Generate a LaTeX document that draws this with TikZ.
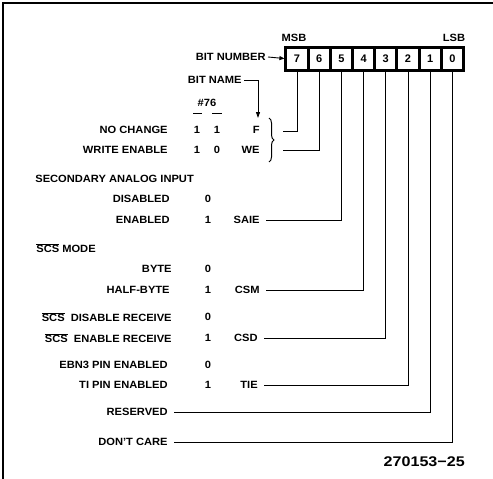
\documentclass[tikz,border=0pt]{standalone}
\usepackage{fontspec}
\setmainfont{Liberation Sans}
\usetikzlibrary{arrows.meta,decorations.pathreplacing}
\begin{document}
\begin{tikzpicture}[x=1pt,y=-1pt,
  txt/.style={font=\fontsize{10.5}{12}\selectfont\bfseries,inner sep=2pt,xscale=1.06},
  lbl/.style={txt,anchor=east},
  hdr/.style={txt,anchor=west},
  val/.style={txt,anchor=center},
  nm/.style={txt,anchor=east},
  cell/.style={draw,line width=3pt,minimum width=22.2pt,minimum height=23pt,inner sep=0pt,font=\fontsize{11}{12}\selectfont\bfseries},
  conn/.style={line width=0.9pt},
  frame/.style={line width=1.6pt}]
\useasboundingbox (0,0) rectangle (493,479);
% frame (top and left only)
\draw[frame] (3,479) -- (3,3) -- (493,3);
% bit cells
\foreach \i in {7,...,0}{
  \node[cell] (b\i) at ({297+22.2*(7-\i)},58.5) {\i};
}
\node[txt] (msb) at (294,38) {MSB};
\node[txt] (lsb) at (454,38) {LSB};
% bit number / bit name
\node[lbl] (bitnum) at (268,57) {BIT NUMBER};
\draw[conn,-{Triangle[length=5pt,width=4pt]}] (bitnum.east) -- (b7.west);
\node[lbl] (bitname) at (244,80) {BIT NAME};
\coordinate (namecorner) at (258,80);
\coordinate (namearrow) at (258,118);
\draw[conn,-{Triangle[length=6pt,width=4pt]}] (bitname.east) -- (namecorner) -- (namearrow);
% #76 header
\node[val] (h76) at (207,103) {\#76};
\draw[conn] (193,113) -- (202,113);
\draw[conn] (212,113) -- (222,113);
% rows
\node[lbl] (nochg) at (170,130) {NO CHANGE};
\node[val] (v1a) at (197,130) {1};
\node[val] (v1b) at (217,130) {1};
\node[nm] (f) at (262,130) {F};
\node[lbl] (wren) at (170,150) {WRITE ENABLE};
\node[val] (v2a) at (197,150) {1};
\node[val] (v2b) at (217,150) {0};
\node[nm] (we) at (262,150) {WE};
\draw[line width=1pt,decorate,decoration={brace,amplitude=5pt}] (269,118) -- (269,162);
\coordinate (fl) at (283,131);
\coordinate (wl) at (283,150);
\draw[conn] (fl) -| (b7.south);
\draw[conn] (wl) -| (b6.south);

\node[hdr] (sec) at (33,179) {SECONDARY ANALOG INPUT};
\node[lbl] (dis) at (172,199) {DISABLED};
\node[val] (vdis) at (208,199) {0};
\node[lbl] (ena) at (172,220) {ENABLED};
\node[val] (vena) at (208,220) {1};
\node[nm] (saie) at (262,220) {SAIE};
\draw[conn,shorten <=4pt] (saie.east) -| (b5.south);

\node[hdr] (scsm) at (34,248) {$\overline{\mbox{SCS}}$ MODE};
\node[lbl] (byte) at (174,269) {BYTE};
\node[val] (vbyte) at (208,269) {0};
\node[lbl] (hbyte) at (172,290) {HALF-BYTE};
\node[val] (vhb) at (208,290) {1};
\node[nm] (csm) at (262,290) {CSM};
\draw[conn,shorten <=4pt] (csm.east) -| (b4.south);

\node[lbl] (sdr) at (174,317) {$\overline{\mbox{SCS}}$\ \ DISABLE RECEIVE};
\node[val] (vsdr) at (208,317) {0};
\node[lbl] (ser) at (174,338) {$\overline{\mbox{SCS}}$\ \ ENABLE RECEIVE};
\node[val] (vser) at (208,338) {1};
\node[nm] (csd) at (260,338) {CSD};
\draw[conn,shorten <=4pt] (csd.east) -| (b3.south);

\node[lbl] (ebn) at (170,365) {EBN3 PIN ENABLED};
\node[val] (vebn) at (208,365) {0};
\node[lbl] (tip) at (170,385) {TI PIN ENABLED};
\node[val] (vtip) at (208,385) {1};
\node[nm] (tie) at (260,385) {TIE};
\draw[conn,shorten <=4pt] (tie.east) -| (b2.south);

\node[lbl] (rsv) at (170,412) {RESERVED};
\draw[conn,shorten <=4pt] (rsv.east) -| (b1.south);
\node[lbl] (dc) at (170,442) {DON'T CARE};
\draw[conn,shorten <=4pt] (dc.east) -| (b0.south);

\node[font=\fontsize{14}{16}\selectfont\bfseries,anchor=east,inner sep=0pt,xscale=1.15] (fig) at (465,462) {270153{−}25};
\end{tikzpicture}
\end{document}
